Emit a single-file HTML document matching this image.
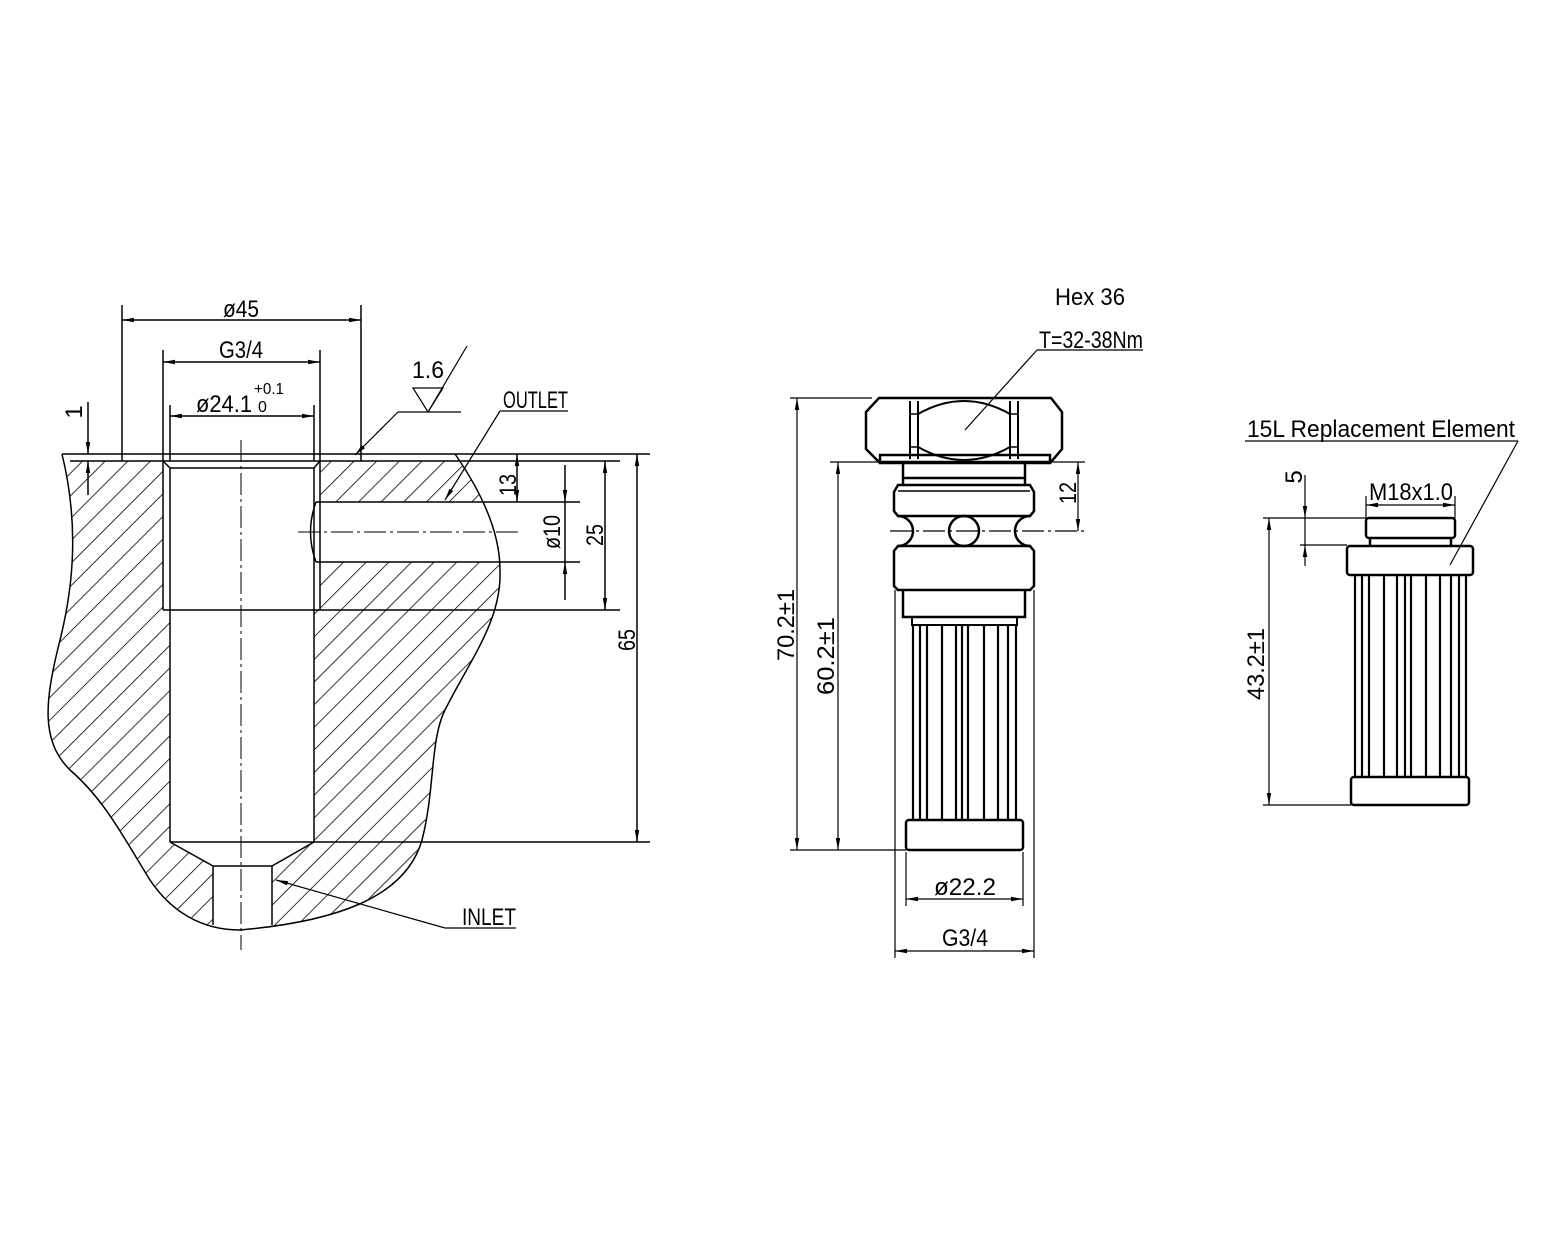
<!DOCTYPE html>
<html><head><meta charset="utf-8"><style>
html,body{margin:0;padding:0;background:#fff}
svg{display:block}
text{font-family:"Liberation Sans",sans-serif;fill:#000}
</style></head><body>
<svg width="1558" height="1235" viewBox="0 0 1558 1235" xmlns="http://www.w3.org/2000/svg">
<defs>
<pattern id="h" patternUnits="userSpaceOnUse" width="16" height="16" patternTransform="rotate(45)">
<line x1="0" y1="0" x2="0" y2="16" stroke="#000" stroke-width="1.6"/>
</pattern>
<marker id="a" viewBox="0 0 12 6" refX="12" refY="3" markerWidth="12" markerHeight="6" orient="auto-start-reverse" markerUnits="userSpaceOnUse">
<path d="M0,0.8 L12,3 L0,5.2 Z" fill="#000"/>
</marker>
</defs>
<rect width="1558" height="1235" fill="#fff"/>

<!-- LEFT SECTION -->
<g stroke="#000" stroke-width="1.5" fill="none">
<path d="M62,454 L455,454 C480,490 500,530 500,570 C502,620 470,660 445,710 C430,740 435,790 422,840 C405,900 330,922 240,930 C200,930 170,910 150,880 C125,840 105,800 70,770 C40,740 45,700 60,640 C75,580 78,520 62,454 Z" fill="url(#h)" stroke="none"/>
<path d="M163,454 L320,454 L320,610 L314,610 L314,842 L272,866 L272,932 L213,932 L213,866 L170,842 L170,610 L163,610 Z" fill="#fff" stroke="none"/>
<path d="M314,502 L505,502 L505,562 L314,562 Z" fill="#fff" stroke="none"/>
<rect x="60" y="454" width="420" height="7" fill="#fff" stroke="none"/>
</g>
<g stroke="#000" stroke-width="1.5" fill="none">
<path d="M455,454 C480,490 500,530 500,570 C502,620 470,660 445,710 C430,740 435,790 422,840 C405,900 330,922 240,930 C200,930 170,910 150,880 C125,840 105,800 70,770 C40,740 45,700 60,640 C75,580 78,520 62,454"/>
<line x1="62" y1="454" x2="650" y2="454"/>
<line x1="70" y1="461" x2="620" y2="461"/>
<line x1="163" y1="461" x2="163" y2="610"/>
<line x1="320" y1="461" x2="320" y2="610"/>
<line x1="170" y1="468" x2="170" y2="842"/>
<line x1="314" y1="468" x2="314" y2="842"/>
<line x1="163" y1="461" x2="170" y2="468"/>
<line x1="320" y1="461" x2="314" y2="468"/>
<line x1="170" y1="468" x2="314" y2="468"/>
<line x1="163" y1="610" x2="620" y2="610"/>
<line x1="170" y1="842" x2="650" y2="842"/>
<path d="M170,842 L213,866 L272,866 L314,842"/>
<line x1="213" y1="866" x2="213" y2="925"/>
<line x1="272" y1="866" x2="272" y2="925"/>
<line x1="316" y1="502" x2="580" y2="502"/>
<line x1="316" y1="562" x2="580" y2="562"/>
<path d="M316,502 Q305,532 316,562"/>
<line x1="241" y1="440" x2="241" y2="950" stroke-width="1" stroke-dasharray="22,4,3,4"/>
<line x1="298" y1="532" x2="520" y2="532" stroke-width="1" stroke-dasharray="22,4,3,4"/>
<line x1="122" y1="305" x2="122" y2="461"/>
<line x1="361" y1="305" x2="361" y2="461"/>
<line x1="122" y1="320" x2="361" y2="320" marker-start="url(#a)" marker-end="url(#a)"/>
<line x1="163" y1="350" x2="163" y2="461"/>
<line x1="320" y1="350" x2="320" y2="461"/>
<line x1="163" y1="362" x2="320" y2="362" marker-start="url(#a)" marker-end="url(#a)"/>
<line x1="170" y1="405" x2="170" y2="461"/>
<line x1="314" y1="405" x2="314" y2="461"/>
<line x1="170" y1="416" x2="314" y2="416" marker-start="url(#a)" marker-end="url(#a)"/>
<line x1="88" y1="402" x2="88" y2="454" marker-end="url(#a)"/>
<line x1="88" y1="495" x2="88" y2="461" marker-end="url(#a)"/>
<line x1="517" y1="454" x2="517" y2="502" marker-start="url(#a)" marker-end="url(#a)"/>
<line x1="565" y1="465" x2="565" y2="502" marker-end="url(#a)"/>
<line x1="565" y1="600" x2="565" y2="562" marker-end="url(#a)"/>
<line x1="565" y1="502" x2="565" y2="562"/>
<line x1="605" y1="461" x2="605" y2="610" marker-start="url(#a)" marker-end="url(#a)"/>
<line x1="637" y1="454" x2="637" y2="842" marker-start="url(#a)" marker-end="url(#a)"/>
<path d="M413,388 L443,388 L428,412 Z" stroke-width="1.2"/>
<line x1="428" y1="412" x2="467" y2="346" stroke-width="1.2"/>
<line x1="398" y1="412" x2="461" y2="412" stroke-width="1.2"/>
<line x1="398" y1="412" x2="355" y2="455" stroke-width="1.2" marker-end="url(#a)"/>
<line x1="500" y1="411" x2="568" y2="411" stroke-width="1.2"/>
<line x1="500" y1="411" x2="445" y2="500" stroke-width="1.2" marker-end="url(#a)"/>
<line x1="445" y1="928" x2="516" y2="928" stroke-width="1.2"/>
<line x1="445" y1="928" x2="276" y2="880" stroke-width="1.2" marker-end="url(#a)"/>
</g>
<g font-size="24">
<text x="223" y="317" textLength="36" lengthAdjust="spacingAndGlyphs">ø45</text>
<text x="219" y="358" textLength="44" lengthAdjust="spacingAndGlyphs">G3/4</text>
<text x="196" y="412" textLength="56" lengthAdjust="spacingAndGlyphs">ø24.1</text>
<text x="254" y="394" font-size="16" textLength="30" lengthAdjust="spacingAndGlyphs">+0.1</text>
<text x="258" y="412" font-size="16">0</text>
<text x="412" y="378" textLength="32" lengthAdjust="spacingAndGlyphs">1.6</text>
<text x="503" y="408" textLength="65" lengthAdjust="spacingAndGlyphs">OUTLET</text>
<text x="462" y="925" textLength="54" lengthAdjust="spacingAndGlyphs">INLET</text>
<text transform="translate(82,412) rotate(-90)" text-anchor="middle">1</text>
<text transform="translate(516,485) rotate(-90)" textLength="22" lengthAdjust="spacingAndGlyphs" text-anchor="middle">13</text>
<text transform="translate(560,532) rotate(-90)" textLength="34" lengthAdjust="spacingAndGlyphs" text-anchor="middle">ø10</text>
<text transform="translate(603,535) rotate(-90)" textLength="22" lengthAdjust="spacingAndGlyphs" text-anchor="middle">25</text>
<text transform="translate(635,640) rotate(-90)" textLength="22" lengthAdjust="spacingAndGlyphs" text-anchor="middle">65</text>
</g>

<!-- MIDDLE PART -->
<g stroke="#000" stroke-width="2.5" fill="none">
<path d="M879,398 L1051,398 L1062,412 L1062,449 L1051,462 L879,462 L866,449 L866,412 Z"/>
<line x1="910" y1="401" x2="910" y2="459" stroke-width="2"/>
<line x1="918" y1="401" x2="918" y2="459" stroke-width="2"/>
<line x1="1010" y1="401" x2="1010" y2="459" stroke-width="2"/>
<line x1="1018" y1="401" x2="1018" y2="459" stroke-width="2"/>
<path d="M918,414 Q964,388 1010,414 M918,447 Q964,473 1010,447" stroke-width="2"/>
<line x1="910" y1="414" x2="918" y2="414" stroke-width="1.5"/><line x1="910" y1="447" x2="918" y2="447" stroke-width="1.5"/>
<line x1="1010" y1="414" x2="1018" y2="414" stroke-width="1.5"/><line x1="1010" y1="447" x2="1018" y2="447" stroke-width="1.5"/>
<rect x="880" y="455" width="170" height="8"/>
<path d="M903,463 L903,485 M1025,463 L1025,485 M903,478 L1025,478"/>
<path d="M898,485 L1030,485 L1034,492 L1034,511 L1030,516 L898,516 L894,511 L894,492 Z"/>
<line x1="898" y1="491" x2="1030" y2="491" stroke-width="1.5"/>
<path d="M898,516 A15,15 0 0 1 898,546 M1030,516 A15,15 0 0 0 1030,546"/>
<circle cx="964" cy="531" r="15"/>
<path d="M898,546 L1030,546 L1034,551 L1034,586 L1030,590 L898,590 L894,586 L894,551 Z"/>
<path d="M903,590 L903,617 L1025,617 L1025,590"/>
<rect x="912" y="617" width="105" height="8" stroke-width="2"/>
<rect x="906" y="820" width="117" height="30" rx="3"/>
</g>
<g stroke="#000" stroke-width="2.2">
<line x1="913" y1="625" x2="913" y2="820"/><line x1="920" y1="625" x2="920" y2="820"/>
<line x1="927" y1="625" x2="927" y2="820"/><line x1="942" y1="625" x2="942" y2="820"/>
<line x1="956" y1="625" x2="956" y2="820"/><line x1="962" y1="625" x2="962" y2="820"/>
<line x1="968" y1="625" x2="968" y2="820"/><line x1="984" y1="625" x2="984" y2="820"/>
<line x1="998" y1="625" x2="998" y2="820"/><line x1="1008" y1="625" x2="1008" y2="820"/>
<line x1="1016" y1="625" x2="1016" y2="820"/>
</g>
<g stroke="#000" stroke-width="1.2" fill="none">
<line x1="890" y1="531" x2="1085" y2="531" stroke-dasharray="22,4,3,4"/>
<line x1="790" y1="398" x2="872" y2="398"/>
<line x1="790" y1="850" x2="906" y2="850"/>
<line x1="830" y1="462" x2="880" y2="462"/>
<line x1="1030" y1="462" x2="1085" y2="462"/>
<line x1="797" y1="398" x2="797" y2="850" marker-start="url(#a)" marker-end="url(#a)"/>
<line x1="838" y1="462" x2="838" y2="850" marker-start="url(#a)" marker-end="url(#a)"/>
<line x1="1078" y1="462" x2="1078" y2="531" marker-start="url(#a)" marker-end="url(#a)"/>
<line x1="906" y1="852" x2="906" y2="906"/>
<line x1="1023" y1="852" x2="1023" y2="906"/>
<line x1="906" y1="899" x2="1023" y2="899" marker-start="url(#a)" marker-end="url(#a)"/>
<line x1="895" y1="590" x2="895" y2="958"/>
<line x1="1034" y1="590" x2="1034" y2="958"/>
<line x1="895" y1="951" x2="1034" y2="951" marker-start="url(#a)" marker-end="url(#a)"/>
<line x1="1037" y1="350" x2="1143" y2="350"/>
<line x1="1037" y1="350" x2="965" y2="430"/>
</g>
<g font-size="24">
<text x="1055" y="305" textLength="70" lengthAdjust="spacingAndGlyphs">Hex 36</text>
<text x="1039" y="348" textLength="104" lengthAdjust="spacingAndGlyphs">T=32-38Nm</text>
<text x="934" y="895" textLength="62" lengthAdjust="spacingAndGlyphs">ø22.2</text>
<text x="942" y="946" textLength="46" lengthAdjust="spacingAndGlyphs">G3/4</text>
<text transform="translate(794,625) rotate(-90)" textLength="72" lengthAdjust="spacingAndGlyphs" text-anchor="middle">70.2±1</text>
<text transform="translate(834,656) rotate(-90)" textLength="78" lengthAdjust="spacingAndGlyphs" text-anchor="middle">60.2±1</text>
<text transform="translate(1076,493) rotate(-90)" textLength="22" lengthAdjust="spacingAndGlyphs" text-anchor="middle">12</text>
</g>

<!-- RIGHT PART -->
<g stroke="#000" stroke-width="2.5" fill="none">
<rect x="1366" y="518" width="89" height="20" rx="3"/>
<line x1="1370" y1="538" x2="1370" y2="546"/><line x1="1451" y1="538" x2="1451" y2="546"/>
<rect x="1347" y="546" width="126" height="29" rx="3"/>
<rect x="1351" y="777" width="118" height="28" rx="3"/>
</g>
<g stroke="#000" stroke-width="2.2">
<line x1="1355" y1="575" x2="1355" y2="777"/><line x1="1362" y1="575" x2="1362" y2="777"/>
<line x1="1369" y1="575" x2="1369" y2="777"/><line x1="1384" y1="575" x2="1384" y2="777"/>
<line x1="1397" y1="575" x2="1397" y2="777"/><line x1="1405" y1="575" x2="1405" y2="777"/>
<line x1="1411" y1="575" x2="1411" y2="777"/><line x1="1426" y1="575" x2="1426" y2="777"/>
<line x1="1440" y1="575" x2="1440" y2="777"/><line x1="1451" y1="575" x2="1451" y2="777"/>
<line x1="1459" y1="575" x2="1459" y2="777"/><line x1="1466" y1="575" x2="1466" y2="777"/>
</g>
<g stroke="#000" stroke-width="1.2" fill="none">
<line x1="1263" y1="518" x2="1366" y2="518"/>
<line x1="1300" y1="545" x2="1347" y2="545"/>
<line x1="1263" y1="805" x2="1351" y2="805"/>
<line x1="1269" y1="518" x2="1269" y2="805" marker-start="url(#a)" marker-end="url(#a)"/>
<line x1="1305" y1="475" x2="1305" y2="518" marker-end="url(#a)"/>
<line x1="1305" y1="566" x2="1305" y2="545" marker-end="url(#a)"/>
<line x1="1305" y1="518" x2="1305" y2="545"/>
<line x1="1366" y1="496" x2="1366" y2="518"/>
<line x1="1455" y1="496" x2="1455" y2="518"/>
<line x1="1366" y1="505" x2="1455" y2="505" marker-start="url(#a)" marker-end="url(#a)"/>
<line x1="1245" y1="441" x2="1518" y2="441"/>
<line x1="1518" y1="441" x2="1450" y2="565"/>
</g>
<g font-size="24">
<text x="1247" y="437" textLength="268" lengthAdjust="spacingAndGlyphs">15L Replacement Element</text>
<text x="1369" y="500" textLength="84" lengthAdjust="spacingAndGlyphs">M18x1.0</text>
<text transform="translate(1302,477) rotate(-90)" text-anchor="middle">5</text>
<text transform="translate(1264,664) rotate(-90)" textLength="72" lengthAdjust="spacingAndGlyphs" text-anchor="middle">43.2±1</text>
</g>
</svg>
</body></html>
